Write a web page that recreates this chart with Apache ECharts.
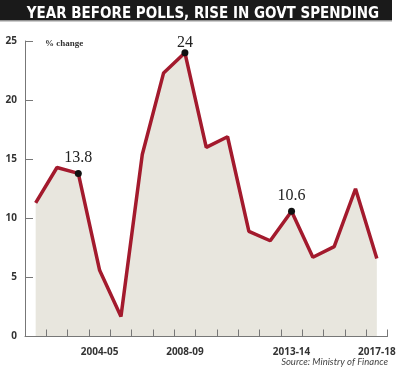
<!DOCTYPE html>
<html><head><meta charset="utf-8">
<script src="https://cdn.jsdelivr.net/npm/echarts@6/dist/echarts.min.js"></script>
<style>html,body{margin:0;padding:0;background:#fff}#c{width:400px;height:373px}</style>
</head><body><div id="c"></div>
<script>
var categories = ['2001-02','2002-03','2003-04','2004-05','2005-06','2006-07','2007-08','2008-09','2009-10','2010-11','2011-12','2012-13','2013-14','2014-15','2015-16','2016-17','2017-18'];
var values = [11.3, 14.3, 13.8, 5.6, 1.7, 15.4, 22.3, 24, 16.0, 16.9, 8.9, 8.1, 10.6, 6.7, 7.6, 12.5, 6.6];
var labeledCategories = ['2003-04','2008-09','2013-14'];
var tickLabels = ['2004-05','2008-09','2013-14','2017-18'];
var yTicks = [0, 5, 10, 15, 20, 25];

var chart = echarts.init(document.getElementById('c'));
var seriesData = values.map(function(v, i){
  var on = labeledCategories.indexOf(categories[i]) >= 0;
  return {
    value: v,
    symbol: on ? 'circle' : 'none',
    symbolSize: on ? 7 : 0,
    label: {show: on, distance: (v === 24 ? -1 : 4)}
  };
});
chart.setOption({
  animation: false,
  backgroundColor: '#fff',
  title: [{
    text: 'YEAR BEFORE POLLS, RISE IN GOVT SPENDING',
    left: 198, top: 2, textAlign: 'center',
    textStyle: {color: '#fff', fontSize: 15, fontWeight: 'bold', fontFamily: 'DejaVu Sans Condensed'}
  }, {
    text: 'Source: Ministry of Finance',
    right: 7, top: 352,
    textStyle: {color: '#444', fontSize: 9.5, fontStyle: 'italic', fontWeight: 'normal', fontFamily: 'Lato'}
  }, {
    text: '% change',
    left: 40, top: 34,
    textStyle: {color: '#333', fontSize: 9, fontWeight: 'bold', fontFamily: 'Liberation Serif'}
  }],
  graphic: [{
    type: 'rect', shape: {x: 0, y: 0, width: 392, height: 20.5},
    style: {fill: '#1a1a1a'}, z: -1
  }, {
    type: 'rect', shape: {x: 0, y: 20.5, width: 392, height: 1},
    style: {fill: '#999'}, z: -1
  }],
  grid: {left: 25, right: 12.5, top: 41, bottom: 36.5},
  xAxis: {
    type: 'category', data: categories, boundaryGap: true, z: 10,
    axisLine: {show: true, lineStyle: {color: '#777', width: 1}},
    axisTick: {show: true, inside: true, length: 7, lineStyle: {color: '#777', width: 1}, alignWithLabel: false, interval: 0},
    axisLabel: {
      interval: function(i, v){ return tickLabels.indexOf(v) >= 0; },
      color: '#333', fontSize: 10, fontWeight: 'bold', fontFamily: 'Noto Sans', margin: 11
    }
  },
  yAxis: {
    type: 'value', min: 0, max: 25, interval: 5,
    splitLine: {show: false},
    axisLine: {show: true, lineStyle: {color: '#777', width: 1}},
    axisTick: {show: true, inside: true, length: 8, lineStyle: {color: '#777'}},
    axisLabel: {color: '#333', fontSize: 10, fontWeight: 'bold', fontFamily: 'Noto Sans', margin: 8,
      formatter: function(v){ return yTicks.indexOf(v) >= 0 ? String(v) : ''; }}
  },
  series: [{
    type: 'line', data: seriesData,
    lineStyle: {color: '#a31a2d', width: 3.5},
    itemStyle: {color: '#111'},
    areaStyle: {color: '#e8e6de', opacity: 1},
    label: {position: 'top', color: '#222', fontSize: 16, fontFamily: 'Liberation Serif',
      formatter: function(p){ return String(p.value); }},
    z: 1
  }]
});
</script></body></html>
